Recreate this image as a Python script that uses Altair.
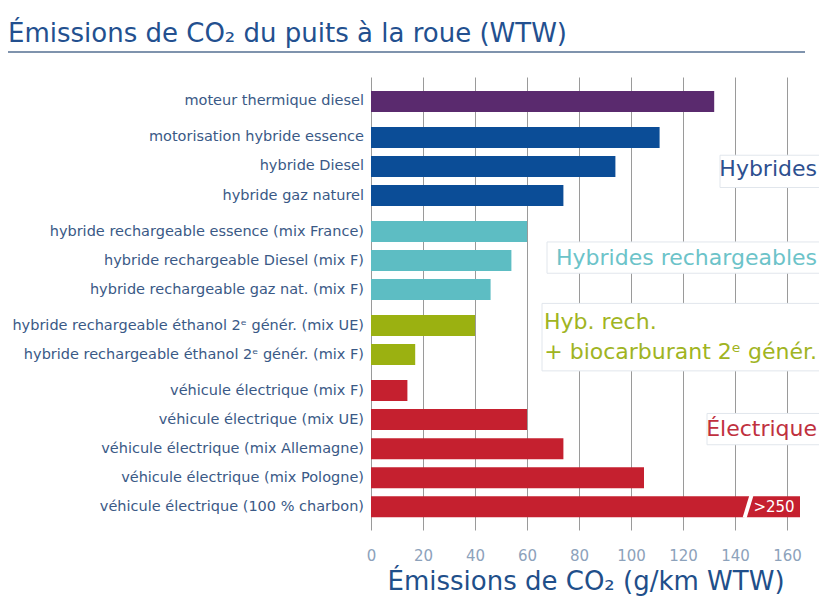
import altair as alt
import pandas as pd

TITLE = "Émissions de CO₂ du puits à la roue (WTW)"
X_TITLE = "Émissions de CO₂ (g/km WTW)"

LABELS = [
    "moteur thermique diesel",
    "motorisation hybride essence",
    "hybride Diesel",
    "hybride gaz naturel",
    "hybride rechargeable essence (mix France)",
    "hybride rechargeable Diesel (mix F)",
    "hybride rechargeable gaz nat. (mix F)",
    "hybride rechargeable éthanol 2ᵉ génér. (mix UE)",
    "hybride rechargeable éthanol 2ᵉ génér. (mix F)",
    "véhicule électrique (mix F)",
    "véhicule électrique (mix UE)",
    "véhicule électrique (mix Allemagne)",
    "véhicule électrique (mix Pologne)",
    "véhicule électrique (100 % charbon)",
]
VALUES = [132, 111, 94, 74, 60, 54, 46, 40, 17, 14, 60, 74, 105, 260]
VALUE_TEXT = ["", "", "", "", "", "", "", "", "", "", "", "", "", ">250"]
GROUPS = [
    "Thermique",
    "Hybrides", "Hybrides", "Hybrides",
    "Hybrides rechargeables", "Hybrides rechargeables", "Hybrides rechargeables",
    "Biocarburant", "Biocarburant",
    "Électrique", "Électrique", "Électrique", "Électrique", "Électrique",
]
GROUP_NAMES = ["Thermique", "Hybrides", "Hybrides rechargeables", "Biocarburant", "Électrique"]
GROUP_COLORS = ["#5a2a6e", "#0b4d97", "#5dbdc3", "#9bb111", "#c5202f"]
TICKS = [0, 20, 40, 60, 80, 100, 120, 140, 160]

ANN_GROUPS = ["Hybrides", "Hybrides rechargeables", "Biocarburant", "Biocarburant", "Électrique"]
ANN_TEXT = ["Hybrides", "Hybrides rechargeables", "Hyb. rech.", "+ biocarburant 2ᵉ génér.", "Électrique"]
ANN_COLORS = ["#2d4f8f", "#6cc3c9", "#a0b422", "#a0b422", "#c0303e"]

# ---- layout / style constants ----
W, H = 429, 453
X_MAX = 165
GAP = 0.24
Y_DOM = [-0.67, 14.59]
PXU = H / (Y_DOM[1] - Y_DOM[0])
FONT = "DejaVu Sans"
BREAK_AT = 145

gidx = {g: i for i, g in enumerate(GROUP_NAMES)}
df = pd.DataFrame({"label": LABELS, "value": VALUES, "group": GROUPS, "vtext": VALUE_TEXT})
df["pos"] = [i + GAP * gidx[g] for i, g in enumerate(GROUPS)]
gmean = df.groupby("group")["pos"].mean()

xscale = alt.Scale(domain=[0, X_MAX], clamp=True, nice=False, zero=True)
yscale = alt.Scale(domain=Y_DOM, reverse=True, nice=False, zero=False)

bars = alt.Chart(df).mark_bar(orient="horizontal", size=21).encode(
    x=alt.X("value:Q", scale=xscale, stack=None,
            axis=alt.Axis(values=TICKS, grid=True, gridColor="#9a9a9a", gridWidth=1,
                          domain=False, ticks=False, tickSize=0, labelFlush=False,
                          labelFont=FONT, labelFontSize=15, labelColor="#8da2bb",
                          labelPadding=18, title=X_TITLE, titleFont=FONT,
                          titleFontSize=26, titleFontWeight="normal",
                          titleColor="#1f4f8a", titlePadding=5)),
    y=alt.Y("pos:Q", scale=yscale, axis=None),
    color=alt.Color("group:N", scale=alt.Scale(domain=GROUP_NAMES, range=GROUP_COLORS), legend=None),
)

labels = alt.Chart(df).mark_text(align="right", baseline="middle", dx=-7,
                                 fontSize=14.5, font=FONT, color="#3a5986").encode(
    x=alt.value(0),
    y=alt.Y("pos:Q", scale=yscale, axis=None),
    text="label:N",
)

brk = df[df["value"] > X_MAX].copy()
brk["xb"] = BREAK_AT - 1.3
brk["xt"] = BREAK_AT + 1.3
brk["yb"] = brk["pos"] + 0.38
brk["yt"] = brk["pos"] - 0.38
breaks = alt.Chart(brk).mark_rule(color="white", strokeWidth=4).encode(
    x=alt.X("xb:Q", scale=xscale),
    x2="xt:Q",
    y=alt.Y("yb:Q", scale=yscale, axis=None),
    y2="yt:Q",
)
brk["xl"] = (BREAK_AT + X_MAX) / 2
over = alt.Chart(brk).mark_text(color="white", fontSize=15, font=FONT, baseline="middle").encode(
    x=alt.X("xl:Q", scale=xscale),
    y=alt.Y("pos:Q", scale=yscale, axis=None),
    text="vtext:N",
)

# annotations
ANN_SHIFT_PX = [3, -3, -18, 12, -20]
ANN_ALIGN = ["right", "right", "left", "right", "right"]
ANN_X = [446, 446, 173, 446, 446]
ann = pd.DataFrame({"text": ANN_TEXT, "group": ANN_GROUPS, "color": ANN_COLORS,
                    "align": ANN_ALIGN, "xpx": ANN_X})
ann["y"] = [gmean[g] + s / PXU for g, s in zip(ANN_GROUPS, ANN_SHIFT_PX)]

BOX_GROUPS = ["Hybrides", "Hybrides rechargeables", "Biocarburant", "Électrique"]
BOX_LEFT = [349, 176, 171, 336]
BOX_CENTER_PX = [5, -3, -3, -20]
BOX_H = [33, 32, 69, 32]
box = pd.DataFrame({"group": BOX_GROUPS})
box["y1"] = [gmean[g] + (c - h / 2) / PXU for g, c, h in zip(BOX_GROUPS, BOX_CENTER_PX, BOX_H)]
box["y2"] = [gmean[g] + (c + h / 2) / PXU for g, c, h in zip(BOX_GROUPS, BOX_CENTER_PX, BOX_H)]
box["x1"] = BOX_LEFT

boxes = alt.Chart(box).mark_rect(fill="white", stroke="#e1e6ec", strokeWidth=1).encode(
    x=alt.X("x1:Q", scale=None),
    x2=alt.value(456),
    y=alt.Y("y1:Q", scale=yscale, axis=None),
    y2="y2:Q",
)

ann_layers = []
for i in range(len(ann)):
    row = ann.iloc[[i]]
    ann_layers.append(
        alt.Chart(row).mark_text(align=ANN_ALIGN[i], baseline="middle", fontSize=22,
                                 font=FONT, color=ANN_COLORS[i]).encode(
            x=alt.value(ANN_X[i]),
            y=alt.Y("y:Q", scale=yscale, axis=None),
            text="text:N",
        )
    )

title = alt.Chart(pd.DataFrame({"t": [TITLE]})).mark_text(
    align="left", baseline="alphabetic", fontSize=26, font=FONT, color="#23508f"
).encode(x=alt.value(-363), y=alt.value(-35), text="t:N")

underline = alt.Chart(pd.DataFrame({"a": [0]})).mark_rule(color="#7f93ad", strokeWidth=2).encode(
    x=alt.value(-363), x2=alt.value(434), y=alt.value(-25)
)

chart = alt.layer(bars, labels, breaks, over, boxes, *ann_layers, title, underline).properties(
    width=W, height=H,
    padding={"left": 363, "top": 69, "right": 19, "bottom": 68},
    autosize=alt.AutoSizeParams(type="none"),
).configure_view(stroke=None)

chart.save("out.html", embed_options={"renderer": "svg", "actions": False})
